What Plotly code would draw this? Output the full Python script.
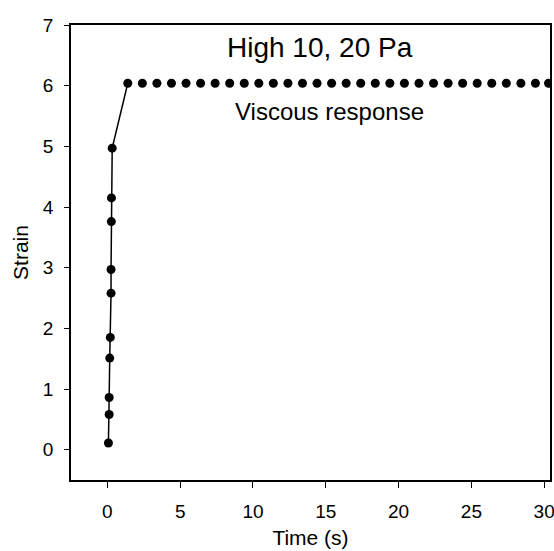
import plotly.graph_objects as go

# Rising (elastic + transition) part, connected by a line
rise_time = [0.07, 0.12, 0.12, 0.16, 0.20, 0.25, 0.25, 0.27, 0.28, 0.33, 1.40]
rise_strain = [0.11, 0.58, 0.86, 1.51, 1.85, 2.58, 2.97, 3.76, 4.15, 4.97, 6.04]

# Plateau (viscous response), dots only
plateau_time = [2.4, 3.4, 4.4, 5.4, 6.4, 7.4, 8.4, 9.4, 10.4, 11.4, 12.4, 13.4,
                14.4, 15.4, 16.4, 17.4, 18.4, 19.4, 20.4, 21.4, 22.4, 23.4, 24.4,
                25.4, 26.4, 27.4, 28.4, 29.4, 30.3]
plateau_strain = [6.04] * len(plateau_time)

x_ticks = [0, 5, 10, 15, 20, 25, 30]
y_ticks = [0, 1, 2, 3, 4, 5, 6, 7]

FONT = "Liberation Sans, Arial, Helvetica, sans-serif"

W, H = 554, 551
plot_l, plot_r, plot_t, plot_b = 71, 550, 25, 480

fig = go.Figure()
fig.add_trace(go.Scatter(
    x=rise_time, y=rise_strain, mode="lines+markers",
    line=dict(color="black", width=1.5),
    marker=dict(color="black", size=9),
    showlegend=False, cliponaxis=False,
))
fig.add_trace(go.Scatter(
    x=plateau_time, y=plateau_strain, mode="markers",
    marker=dict(color="black", size=9),
    showlegend=False, cliponaxis=True,
))

fig.update_layout(
    template="none",
    width=W, height=H,
    margin=dict(l=plot_l, r=W - plot_r, t=plot_t, b=H - plot_b),
    paper_bgcolor="white", plot_bgcolor="white",
    font=dict(family=FONT, color="black", size=18),
    xaxis=dict(
        range=[-2.5, 30.4], tickvals=x_ticks, ticks="outside", ticklen=6, tickwidth=1.3,
        tickcolor="black", showline=True, linecolor="black", linewidth=1.5, mirror=True,
        showgrid=False, zeroline=False, automargin=False,
        tickfont=dict(size=19), ticklabelstandoff=7, ticklabeloverflow="allow",
        title=dict(text="Time (s)", font=dict(size=21), standoff=10),
    ),
    yaxis=dict(
        range=[-0.5, 7], tickvals=y_ticks, ticks="outside", ticklen=5, tickwidth=1.3,
        tickcolor="black", showline=True, linecolor="black", linewidth=1.5, mirror=True,
        showgrid=False, zeroline=False, automargin=False,
        tickfont=dict(size=19), ticklabelstandoff=7, ticklabeloverflow="allow",
        title=dict(text="Strain", font=dict(size=21), standoff=9),
    ),
)


def px_to_paper(px, py):
    return (px - plot_l) / (plot_r - plot_l), (plot_b - py) / (plot_b - plot_t)


tx, ty = px_to_paper(320, 47)
vx, vy = px_to_paper(329, 111)
fig.add_annotation(text="High 10, 20 Pa", x=tx, y=ty, xref="paper", yref="paper",
                   xanchor="center", yanchor="middle", showarrow=False,
                   font=dict(family=FONT, size=28, color="black"))
fig.add_annotation(text="Viscous response", x=vx, y=vy, xref="paper", yref="paper",
                   xanchor="center", yanchor="middle", showarrow=False,
                   font=dict(family=FONT, size=24, color="black"))

fig.write_html(
    "out.html",
    config={"displayModeBar": False},
    post_script="document.body.style.margin='0';document.body.style.overflow='hidden';",
)
